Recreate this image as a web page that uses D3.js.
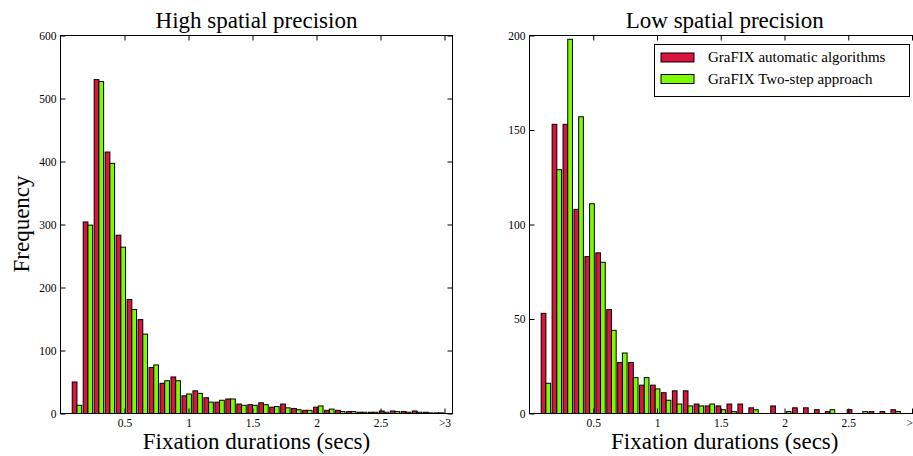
<!DOCTYPE html>
<html><head><meta charset="utf-8">
<script src="https://cdn.jsdelivr.net/npm/d3@7/dist/d3.min.js"></script>
<style>
body{margin:0;background:#fff}
svg{display:block}
text{font-family:"Liberation Serif","Times New Roman","DejaVu Serif",serif;fill:#000}
</style>
</head><body>
<svg id="c" width="913" height="456"></svg>
<script>
// ---- data ----
const binEdges = [0.0857,0.1714,0.2571,0.3429,0.4286,0.5143,0.6,0.6857,0.7714,0.8571,
  0.9429,1.0286,1.1143,1.2,1.2857,1.3714,1.4571,1.5429,1.6286,1.7143,
  1.8,1.8857,1.9714,2.0571,2.1429,2.2286,2.3143,2.4,2.4857,2.5714,
  2.6571,2.7429,2.8286,2.9143,3.0];
const highAuto    = [50,304,530,415,283,181,149,73,48,58,28,36,25,18,23,15,14,17,10,15,8,5,10,5,5,3,2,2,4,4,3,4,2,1];
const highTwoStep = [13,299,527,397,264,165,126,77,52,52,31,32,18,21,23,13,13,14,11,9,6,5,12,7,3,3,2,2,2,3,2,2,1,1];
const lowAuto     = [53,153,153,108,83,85,55,27,27,15,15,11,12,12,5,4,4,5,5,3,0,4,0,3,3,2,1,0,2,0,1,1,2,0];
const lowTwoStep  = [16,129,198,157,111,80,44,32,19,19,13,7,5,4,4,5,2,1,0,2,0,0,1,0,0,0,2,0,0,1,0,0,1,0];
const xTickValues = [0.5,1,1.5,2,2.5,3];
const xTickLabels = ["0.5","1","1.5","2","2.5",">3"];
const highYTicks  = [0,100,200,300,400,500,600];
const lowYTicks   = [0,50,100,150,200];
const seriesNames = ["GraFIX automatic algorithms","GraFIX Two-step approach"];
const seriesColors = ["#dc143c","#7cfc00"];

const svg = d3.select("#c");
svg.append("rect").attr("width",913).attr("height",456).attr("fill","#fff");

function panel(o){
  const x = d3.scaleLinear().domain([0,3.0625]).range([o.x0,o.x1]);
  const y = d3.scaleLinear().domain([0,o.ymax]).range([413.5,35.5]);
  const g = svg.append("g");
  const series = [o.a,o.b];
  const rw = 0.86;
  series.forEach((vals,si)=>{
    g.append("g").selectAll("rect").data(vals.map((v,i)=>({v,i})).filter(d=>d.v>0))
      .join("rect")
      .attr("x",d=>{const l=x(binEdges[d.i]),w=x(binEdges[d.i+1])-l;return l+w*(1-rw)/2+si*w*rw/2;})
      .attr("width",d=>{const l=x(binEdges[d.i]),w=x(binEdges[d.i+1])-l;return w*rw/2;})
      .attr("y",d=>y(d.v)).attr("height",d=>y(0)-y(d.v))
      .attr("fill",seriesColors[si]).attr("stroke","#000").attr("stroke-width",1);
  });
  const fmt = (d)=>xTickLabels[xTickValues.indexOf(d)];
  const bx = g.append("g").attr("transform","translate(0,413.5)")
    .call(d3.axisBottom(x).tickValues(xTickValues).tickFormat(fmt).tickSize(-5).tickSizeOuter(0).tickPadding(5));
  const tx = g.append("g").attr("transform","translate(0,35.5)")
    .call(d3.axisTop(x).tickValues(xTickValues).tickFormat("").tickSize(-5).tickSizeOuter(0));
  const ly = g.append("g").attr("transform",`translate(${o.x0},0)`)
    .call(d3.axisLeft(y).tickValues(o.yTicks).tickSize(-5).tickSizeOuter(0).tickPadding(4));
  const ry = g.append("g").attr("transform",`translate(${o.x1},0)`)
    .call(d3.axisRight(y).tickValues(o.yTicks).tickFormat("").tickSize(-5).tickSizeOuter(0));
  [bx,tx,ly,ry].forEach(a=>{
    a.select(".domain").remove();
    a.selectAll("line").attr("stroke","#000").attr("stroke-width",1);
    a.selectAll("text").attr("font-family","Liberation Serif, serif").attr("font-size",11.5).attr("fill","#000");
  });
  g.append("rect").attr("x",o.x0).attr("y",35.5).attr("width",o.x1-o.x0).attr("height",378)
    .attr("fill","none").attr("stroke","#000").attr("stroke-width",1);
  const cx = (o.x0+o.x1)/2;
  g.append("text").attr("x",cx).attr("y",28).attr("text-anchor","middle").attr("font-size",23).text(o.title);
  g.append("text").attr("x",cx).attr("y",449).attr("text-anchor","middle").attr("font-size",23).text("Fixation durations (secs)");
  return {x,y,g};
}

panel({x0:60.5,x1:452.5,ymax:600,yTicks:highYTicks,a:highAuto,b:highTwoStep,title:"High spatial precision"});
panel({x0:529.5,x1:920,ymax:200,yTicks:lowYTicks,a:lowAuto,b:lowTwoStep,title:"Low spatial precision"});

svg.append("text").attr("transform","translate(29,224) rotate(-90)").attr("text-anchor","middle")
  .attr("font-size",23).text("Frequency");

// legend
const lg = svg.append("g");
lg.append("rect").attr("x",654.5).attr("y",44.5).attr("width",255).attr("height",52)
  .attr("fill","#fff").attr("stroke","#000").attr("stroke-width",1);
seriesNames.forEach((n,i)=>{
  lg.append("rect").attr("x",661).attr("y",53+i*21.5).attr("width",33).attr("height",9)
    .attr("fill",seriesColors[i]).attr("stroke","#000").attr("stroke-width",1);
  lg.append("text").attr("x",708).attr("y",62+i*21.5).attr("font-size",15).text(n);
});
</script>
</body></html>
